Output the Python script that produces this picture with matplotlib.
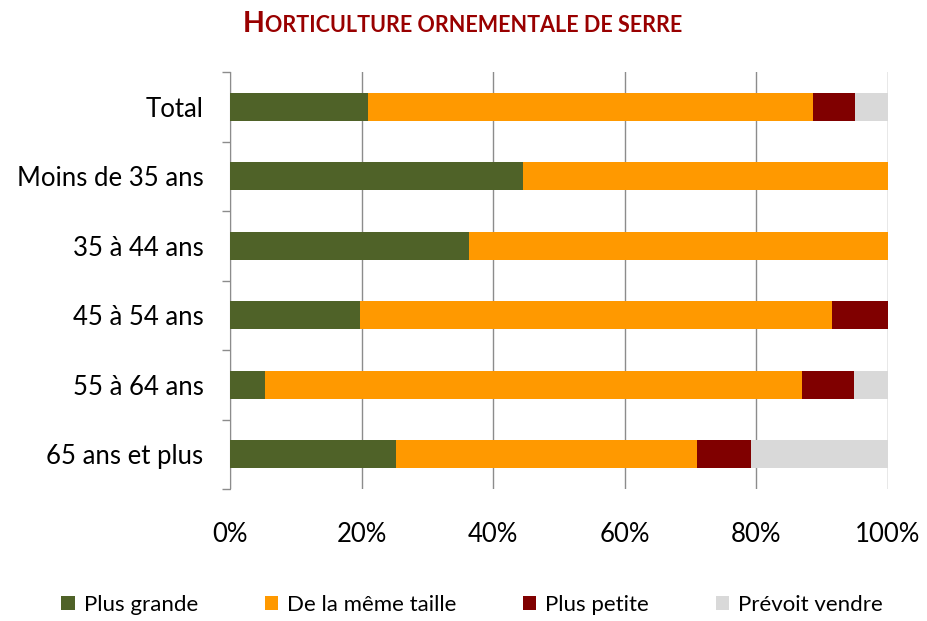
import matplotlib
matplotlib.use("Agg")
import matplotlib.pyplot as plt
from matplotlib.patches import Patch

plt.rcParams['font.family'] = ['Lato', 'DejaVu Sans']

categories = ["Total", "Moins de 35 ans", "35 à 44 ans", "45 à 54 ans",
              "55 à 64 ans", "65 ans et plus"]
plus_grande = [20.9, 44.5, 36.3, 19.7, 5.3, 25.2]
meme_taille = [67.7, 55.5, 63.7, 71.8, 81.7, 45.7]
plus_petite = [6.4, 0.0, 0.0, 8.5, 7.8, 8.3]
prevoit_vendre = [5.0, 0.0, 0.0, 0.0, 5.2, 20.8]

series = [
    ("Plus grande", plus_grande, "#4F6228"),
    ("De la même taille", meme_taille, "#FF9900"),
    ("Plus petite", plus_petite, "#800000"),
    ("Prévoit vendre", prevoit_vendre, "#D9D9D9"),
]
xticks = [0, 20, 40, 60, 80, 100]
xtick_labels = ["0%", "20%", "40%", "60%", "80%", "100%"]

fig = plt.figure(figsize=(9.28, 6.21), dpi=100)
ax = fig.add_axes([230 / 928, 1 - 489 / 621, 658 / 928, 417 / 621])

ypos = list(range(len(categories)))
left = [0.0] * len(categories)
for name, vals, col in series:
    ax.barh(ypos, vals, left=left, height=0.41, color=col, label=name, zorder=3)
    left = [a + b for a, b in zip(left, vals)]

ax.set_xlim(0, 100)
ax.set_ylim(len(categories) - 0.5, -0.5)
ax.set_xticks(xticks)
ax.set_xticklabels(xtick_labels, fontsize=18.5)
ax.grid(axis="x", color="#8C8C8C", linewidth=1.0, zorder=0)
ax.tick_params(axis="x", length=0, pad=24)

# category labels sit between the boundary ticks
ax.set_yticks([y - 0.5 for y in range(len(categories) + 1)])
ax.set_yticklabels([])
ax.set_yticks(ypos, minor=True)
ax.set_yticklabels(categories, minor=True, fontsize=18.5)
ax.tick_params(axis="y", which="major", length=6, color="#8C8C8C", width=1.0)
ax.tick_params(axis="y", which="minor", length=0, pad=19)

for s in ["top", "right", "bottom"]:
    ax.spines[s].set_visible(False)
ax.spines["left"].set_color("#8C8C8C")

# title in small caps
title_color = "#990000"
t1 = fig.text(243 / 928, 1 - 32 / 621, "H", fontsize=20.5, fontweight="bold",
              color=title_color, ha="left", va="baseline")
fig.canvas.draw()
bb = t1.get_window_extent()
fig.text(bb.x1 / 928 + 0.0005, 1 - 32 / 621, "ORTICULTURE ORNEMENTALE DE SERRE",
         fontsize=15.5, fontweight="bold", color=title_color,
         ha="left", va="baseline")

handles = [Patch(facecolor=c, label=n) for n, _, c in series]
fig.legend(handles=handles, loc="center", bbox_to_anchor=(0.5 + 8 / 928, 1 - 605 / 621),
           ncol=4, frameon=False, fontsize=16, handlelength=0.6,
           handleheight=0.6, handletextpad=0.4, columnspacing=3.0)

fig.savefig("out.png", dpi=100)
